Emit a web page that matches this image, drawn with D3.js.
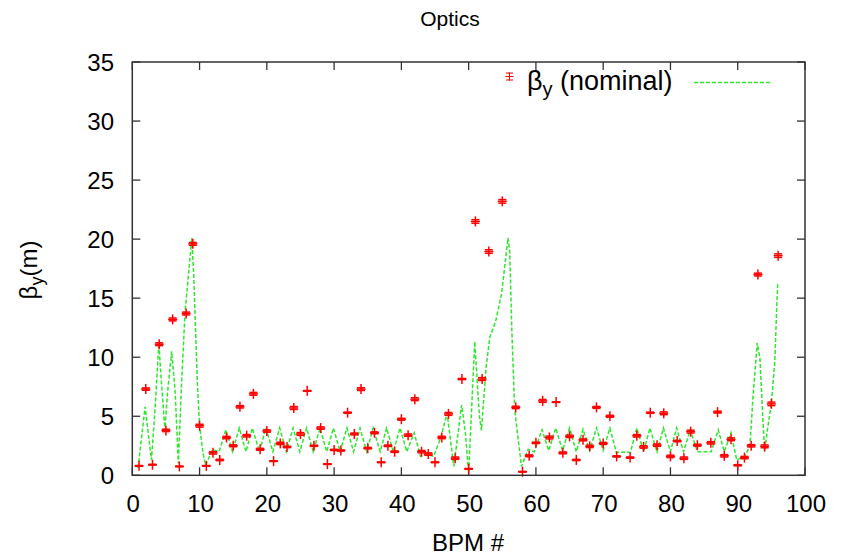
<!DOCTYPE html>
<meta charset="utf-8">
<style>
  body { margin: 0; background: #fff; }
  text { font-family: "Liberation Sans", Arial, sans-serif; fill: #000; }
</style>
<script src="https://d3js.org/d3.v7.min.js"></script>
<div id="chart"></div>
<script>
// measured beta_y at the BPMs (some BPMs have no reading)
var bpm = [1,2,3,4,5,6,7,8,9,10,11,12,13,14,15,16,17,18,19,20,
  21,22,23,24,25,26,27,28,29,30,31,32,33,34,35,36,37,38,39,40,
  41,42,43,44,45,46,47,48,49,50,51,52,53,55,57,58,59,60,61,62,63,
  64,65,66,67,68,69,70,71,72,74,75,76,77,78,79,80,81,82,83,84,
  86,87,88,89,90,91,92,93,94,95,96];
var betaY = [0.8,7.3,0.9,11.1,3.8,13.2,0.75,13.7,19.6,4.2,
  0.8,1.9,1.3,3.2,2.5,5.8,3.35,6.9,2.2,3.75,
  1.2,2.7,2.4,5.7,3.5,7.15,2.5,4.0,0.95,2.15,
  2.1,5.3,3.5,7.3,2.3,3.6,1.1,2.5,2.0,4.75,
  3.4,6.45,2.0,1.8,1.1,3.2,5.2,1.45,8.15,0.55,
  21.5,8.15,18.95,23.2,5.75,0.3,1.65,2.75,6.3,3.2,6.2,
  1.9,3.3,1.3,3.0,2.45,5.75,2.7,5.0,1.6,
  1.5,3.35,2.4,5.3,2.55,5.25,1.6,2.9,1.45,3.7,2.55,
  2.75,5.35,1.65,3.05,0.85,1.5,2.5,17.0,2.45,6.05,18.6];
var betaErr = [0.03,0.1,0.03,0.12,0.1,0.12,0.03,0.12,0.12,0.12,
  0.03,0.1,0.06,0.1,0.08,0.1,0.1,0.12,0.08,0.1,
  0.03,0.1,0.06,0.12,0.12,0.03,0.05,0.1,0.03,0.05,
  0.05,0.05,0.08,0.12,0.06,0.08,0.03,0.06,0.06,0.08,
  0.1,0.12,0.1,0.1,0.03,0.1,0.12,0.1,0.05,0.03,
  0.15,0.12,0.15,0.15,0.1,0.03,0.08,0.06,0.12,0.12,0.03,
  0.08,0.1,0.05,0.08,0.1,0.08,0.08,0.08,0.05,
  0.05,0.1,0.1,0.05,0.1,0.12,0.1,0.06,0.1,0.12,0.08,
  0.1,0.08,0.1,0.12,0.05,0.1,0.1,0.12,0.12,0.15,0.15];

// nominal (model) beta_y
var nomS = [0.85,1.9,2.85,3.4,3.95,4.2,4.5,4.85,5.2,5.85,6.35,6.85,7.3,7.85,8.85,9.15,9.65,10.0,10.5,10.9,
  11.9,12.9,13.9,14.9,15.9,16.9,17.85,18.9,19.85,20.9,21.9,22.9,23.9,24.9,25.9,26.9,27.9,28.9,29.9,30.9,
  31.9,32.9,33.85,34.85,35.8,36.85,37.8,38.8,39.8,40.8,41.9,42.85,43.8,44.8,45.8,46.8,47.8,48.95,49.5,50.0,
  50.9,51.6,51.9,52.6,53.15,54.0,54.9,55.85,56.1,56.4,56.85,57.85,58.85,59.75,60.9,61.9,62.95,63.95,65.0,66.0,
  67.0,68.0,69.0,70.0,71.0,71.95,74.05,75.0,76.0,76.95,78.0,78.95,80.0,80.9,81.95,82.95,84.0,86.05,87.1,88.0,
  89.0,89.85,91.0,91.8,92.3,92.9,93.3,93.7,94.0,94.4,95.0,95.5,95.85,95.95];
var nomB = [0.6,5.8,1.3,5.8,11.2,8.9,6.6,3.8,6.8,10.5,7.3,1.0,7.5,13.9,20.1,16.7,8.1,4.2,1.9,0.85,
  2.15,2.0,3.85,2.0,4.0,2.0,4.0,2.0,4.0,2.0,4.0,2.0,4.0,2.0,4.0,2.0,4.0,2.0,4.0,2.0,
  4.0,2.0,4.0,2.0,4.0,2.0,4.0,2.0,4.0,2.0,3.6,1.6,1.8,1.6,3.1,5.25,0.75,5.95,3.7,0.2,
  11.3,5.0,3.8,9.2,11.7,13.0,15.4,20.1,19.0,12.6,5.5,0.75,2.2,2.0,3.85,2.1,4.0,2.1,4.0,2.0,
  3.9,2.1,4.0,2.1,4.0,1.95,1.95,4.0,2.0,4.0,2.0,4.0,2.0,4.0,2.0,3.85,2.0,2.0,3.85,2.0,
  3.6,1.3,1.6,2.4,6.9,11.2,9.9,5.2,2.0,3.8,6.1,9.5,15.0,16.3];

var xTicks = [0,10,20,30,40,50,60,70,80,90,100];
var yTicks = [0,5,10,15,20,25,30,35];

var W = 846, H = 556;
var pL = 132.3, pR = 805, pT = 62, pB = 475.3;

var svg = d3.select("#chart").append("svg")
  .attr("width", W).attr("height", H);
svg.append("rect").attr("width", W).attr("height", H).attr("fill", "#fff");

var x = d3.scaleLinear().domain([0, 100]).range([pL, pR]);
var y = d3.scaleLinear().domain([0, 35]).range([pB, pT]);

var axisCol = "#333";

// ticks on all four sides, pointing inward
var tl = 8;
xTicks.forEach(function(t) {
  svg.append("line").attr("x1", x(t)).attr("x2", x(t)).attr("y1", pB).attr("y2", pB - tl)
    .attr("stroke", axisCol).attr("stroke-width", 1.3);
  svg.append("line").attr("x1", x(t)).attr("x2", x(t)).attr("y1", pT).attr("y2", pT + tl)
    .attr("stroke", axisCol).attr("stroke-width", 1.3);
  svg.append("text").attr("x", x(t) + 1).attr("y", 512).attr("text-anchor", "middle")
    .style("font-size", "24px").text(t);
});
yTicks.forEach(function(t) {
  svg.append("line").attr("x1", pL).attr("x2", pL + tl).attr("y1", y(t)).attr("y2", y(t))
    .attr("stroke", axisCol).attr("stroke-width", 1.3);
  svg.append("line").attr("x1", pR).attr("x2", pR - tl).attr("y1", y(t)).attr("y2", y(t))
    .attr("stroke", axisCol).attr("stroke-width", 1.3);
  svg.append("text").attr("x", 114).attr("y", y(t)).attr("dy", "0.36em").attr("text-anchor", "end")
    .style("font-size", "24px").text(t);
});

// nominal line
var line = d3.line().x(function(d, i) { return x(nomS[i]); }).y(function(d) { return y(d); });
svg.append("path").datum(nomB)
  .attr("d", line)
  .attr("fill", "none")
  .attr("stroke", "#2ee62e")
  .attr("stroke-width", 1.5)
  .attr("stroke-dasharray", "4,2");

// measured points with y error bars
var pts = svg.append("g").attr("stroke", "#ff0000").attr("stroke-width", 1.5);
bpm.forEach(function(b, i) {
  var cx = x(b), cy = y(betaY[i]);
  var y1 = y(betaY[i] - betaErr[i]), y2 = y(betaY[i] + betaErr[i]);
  pts.append("line").attr("x1", cx - 4.5).attr("x2", cx + 4.5).attr("y1", cy).attr("y2", cy);
  pts.append("line").attr("x1", cx).attr("x2", cx).attr("y1", cy - 5).attr("y2", cy + 5);
  pts.append("line").attr("x1", cx - 4).attr("x2", cx + 4).attr("y1", y1).attr("y2", y1);
  pts.append("line").attr("x1", cx - 4).attr("x2", cx + 4).attr("y1", y2).attr("y2", y2);
});

// border
svg.append("rect").attr("x", pL).attr("y", pT).attr("width", pR - pL).attr("height", pB - pT)
  .attr("fill", "none").attr("stroke", axisCol).attr("stroke-width", 1.5);

// legend
var lg = svg.append("g").attr("stroke", "#ff0000").attr("stroke-width", 1);
lg.append("line").attr("x1", 509.5).attr("x2", 509.5).attr("y1", 72.5).attr("y2", 80.5);
lg.append("line").attr("x1", 506).attr("x2", 513).attr("y1", 73).attr("y2", 73);
lg.append("line").attr("x1", 506).attr("x2", 513).attr("y1", 80).attr("y2", 80);
lg.append("line").attr("x1", 505.5).attr("x2", 513.5).attr("y1", 76.5).attr("y2", 76.5);
var lt = svg.append("text").attr("x", 527).attr("y", 90).style("font-size", "27px");
lt.append("tspan").text("\u03B2");
lt.append("tspan").attr("dy", 6).style("font-size", "20px").text("y");
lt.append("tspan").attr("dy", -6).text(" (nominal)");
svg.append("line").attr("x1", 694).attr("x2", 770).attr("y1", 82.5).attr("y2", 82.5)
  .attr("stroke", "#2ee62e").attr("stroke-width", 1.5).attr("stroke-dasharray", "4,2");

// titles
svg.append("text").attr("x", 450).attr("y", 26).attr("text-anchor", "middle")
  .style("font-size", "21px").text("Optics");
svg.append("text").attr("x", 468).attr("y", 551).attr("text-anchor", "middle")
  .style("font-size", "24px").text("BPM #");
var yl = svg.append("text").attr("transform", "translate(37,270) rotate(-90)")
  .attr("text-anchor", "middle").style("font-size", "24px");
yl.append("tspan").text("\u03B2");
yl.append("tspan").attr("dy", 6).style("font-size", "18px").text("y");
yl.append("tspan").attr("dy", -6).text("(m)");
</script>
